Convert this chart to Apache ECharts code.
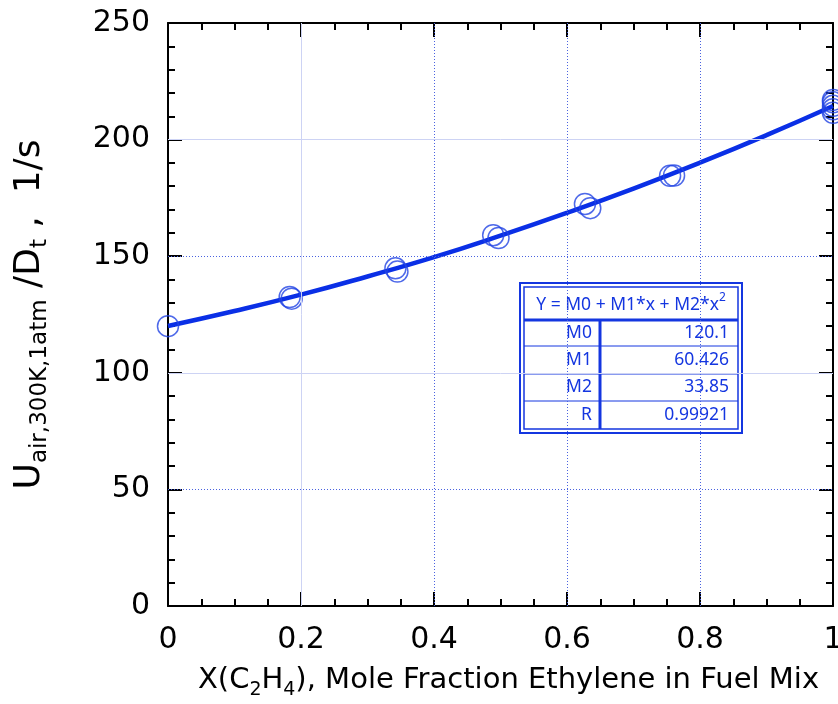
<!DOCTYPE html>
<html>
<head>
<meta charset="utf-8">
<script src="https://cdn.jsdelivr.net/npm/echarts@6/dist/echarts.min.js"></script>
<style>
  html, body { margin: 0; padding: 0; background: #fff; }
  #chart { width: 838px; height: 704px; }
</style>
</head>
<body>
<div id="chart"></div>
<script>
// measured points
var xData = [0, 0.183, 0.186, 0.342, 0.345, 0.489, 0.497, 0.627, 0.635, 0.755, 0.761, 1, 1, 1, 1, 1];
var yData = [120, 132.5, 131.8, 144.8, 143.4, 159.0, 157.8, 172.4, 170.6, 184.5, 184.6, 217, 216, 214.5, 213, 211.5];

// fit curve
var curveX = [0, 0.1, 0.2, 0.3, 0.4, 0.5, 0.6, 0.7, 0.8, 0.9, 1];
var curveY = [120.1, 126.5, 133.5, 141.3, 149.6, 158.8, 168.6, 179.0, 190.1, 201.9, 214.4];

// fit table
var fitTitle = 'Y = M0 + M1*x + M2*x';
var fitNames = ['M0', 'M1', 'M2', 'R'];
var fitValues = ['120.1', '60.426', '33.85', '0.99921'];

var blue = '#1436e0';
var gridLight = '#cdd3f4';
var gridDot = '#4a62e0';
var FONT = 'DejaVu Sans';
var TFONT = 'Noto Sans';

var chart = echarts.init(document.getElementById('chart'));

var pts = xData.map(function(x, i) { return [x, yData[i]]; });
var curve = curveX.map(function(x, i) { return [x, curveY[i]]; });

function axisBase(extra) {
  var a = {
    type: 'value',
    axisLine: { show: true, onZero: false, lineStyle: { color: '#000', width: 2 } },
    axisTick: { show: true, inside: true, length: 14, lineStyle: { color: '#000', width: 2 } },
    splitLine: { show: false },
    minorSplitLine: { show: false }
  };
  for (var k in extra) a[k] = extra[k];
  return a;
}

// grid lines: some faint solid, some dotted
var dotted = [1, 2];
var vLines = [
  { xAxis: 0.2, lineStyle: { type: 'solid', color: gridLight, width: 1 } },
  { xAxis: 0.4, lineStyle: { type: dotted, color: gridDot, width: 1 } },
  { xAxis: 0.6, lineStyle: { type: dotted, color: gridDot, width: 1 } },
  { xAxis: 0.8, lineStyle: { type: dotted, color: gridDot, width: 1 } }
];
var hLines = [
  { yAxis: 50, lineStyle: { type: dotted, color: gridDot, width: 1 } },
  { yAxis: 100, lineStyle: { type: 'solid', color: gridLight, width: 1 } },
  { yAxis: 150, lineStyle: { type: dotted, color: gridDot, width: 1 } },
  { yAxis: 200, lineStyle: { type: 'solid', color: gridLight, width: 1 } }
];

// table geometry
var tx = 520, ty = 283, tw = 222, th = 150;
var rowYs = [320, 346, 374, 401, 429];
var tableChildren = [
  { type: 'rect', shape: { x: tx, y: ty, width: tw, height: th }, style: { fill: '#fff', stroke: blue, lineWidth: 2 } },
  { type: 'rect', shape: { x: tx + 4, y: ty + 4, width: tw - 8, height: th - 8 }, style: { fill: 'none', stroke: blue, lineWidth: 1.5 } },
  { type: 'line', shape: { x1: tx + 4, y1: rowYs[0], x2: tx + tw - 4, y2: rowYs[0] }, style: { stroke: blue, lineWidth: 3 } },
  { type: 'line', shape: { x1: 600, y1: rowYs[0], x2: 600, y2: ty + th - 4 }, style: { stroke: blue, lineWidth: 3 } },
  { type: 'text', x: 631, y: 303, style: {
      text: '{t|' + fitTitle + '}{s|2}', align: 'center', verticalAlign: 'middle',
      rich: {
        t: { fontFamily: TFONT, fontSize: 17.5, fill: blue, verticalAlign: 'bottom', lineHeight: 22 },
        s: { fontFamily: TFONT, fontSize: 12, fill: blue, verticalAlign: 'top', lineHeight: 22 }
      } } }
];
for (var i = 0; i < fitNames.length; i++) {
  if (i > 0) {
    tableChildren.push({ type: 'line', shape: { x1: tx + 4, y1: rowYs[i], x2: tx + tw - 4, y2: rowYs[i] }, style: { stroke: blue, lineWidth: 1 } });
  }
  var cy = (rowYs[i] + rowYs[i + 1]) / 2;
  tableChildren.push({ type: 'text', x: 592, y: cy, style: { text: fitNames[i], align: 'right', verticalAlign: 'middle', fontFamily: TFONT, fontSize: 17.5, fill: blue } });
  tableChildren.push({ type: 'text', x: 729, y: cy, style: { text: fitValues[i], align: 'right', verticalAlign: 'middle', fontFamily: TFONT, fontSize: 17.5, fill: blue } });
}

var xMinor = { show: true, splitNumber: 4, length: 7, lineStyle: { color: '#000', width: 2 } };
var yMinor = { show: true, splitNumber: 5, length: 7, lineStyle: { color: '#000', width: 2 } };

var option = {
  backgroundColor: '#fff',
  animation: false,
  grid: { left: 168, right: 5, top: 23, bottom: 98, containLabel: false, outerBoundsMode: 'none' },
  xAxis: [
    axisBase({
      min: 0, max: 1, interval: 0.2, minorTick: xMinor,
      axisLabel: { show: true, margin: 19, fontFamily: FONT, fontSize: 30, color: '#000',
        formatter: function(v) { return String(+v.toFixed(1)); } },
      name: '{n|X(C}{s|2}{n|H}{s|4}{n|), Mole Fraction Ethylene in Fuel Mix}',
      nameLocation: 'middle', nameGap: 60,
      nameTextStyle: {
        padding: [0, 0, 0, 16],
        rich: {
          n: { fontFamily: FONT, fontSize: 29, color: '#000', verticalAlign: 'top', lineHeight: 34 },
          s: { fontFamily: FONT, fontSize: 19, color: '#000', verticalAlign: 'bottom', lineHeight: 24 }
        }
      }
    }),
    axisBase({ position: 'top', min: 0, max: 1, interval: 0.2, minorTick: xMinor, axisLabel: { show: false } })
  ],
  yAxis: [
    axisBase({
      min: 0, max: 250, interval: 50, minorTick: yMinor,
      axisLabel: { show: true, margin: 18, fontFamily: FONT, fontSize: 30, color: '#000' },
      name: '{n|U}{s|air,300K,1atm}{n| /D}{s|t}{n| ,  1/s}',
      nameLocation: 'middle', nameRotate: 90, nameGap: 116,
      nameTextStyle: {
        rich: {
          n: { fontFamily: FONT, fontSize: 36, color: '#000', verticalAlign: 'top', lineHeight: 40 },
          s: { fontFamily: FONT, fontSize: 23, color: '#000', verticalAlign: 'bottom', lineHeight: 26 }
        }
      }
    }),
    axisBase({ position: 'right', min: 0, max: 250, interval: 50, minorTick: yMinor, axisLabel: { show: false } })
  ],
  series: [
    {
      type: 'line', data: [], silent: true,
      markLine: { symbol: 'none', silent: true, label: { show: false }, data: vLines.concat(hLines) }
    },
    {
      type: 'line', data: curve, smooth: true, showSymbol: false, z: 3,
      lineStyle: { color: '#0a2fe6', width: 4.5 }
    },
    {
      type: 'scatter', data: pts, clip: false, z: 4,
      symbol: 'circle', symbolSize: 21,
      itemStyle: { color: 'rgba(0,0,0,0)', borderColor: '#2244e4', borderWidth: 1.5 }
    }
  ],
  graphic: [{ type: 'group', z: 10, children: tableChildren }]
};

chart.setOption(option);
</script>
</body>
</html>
